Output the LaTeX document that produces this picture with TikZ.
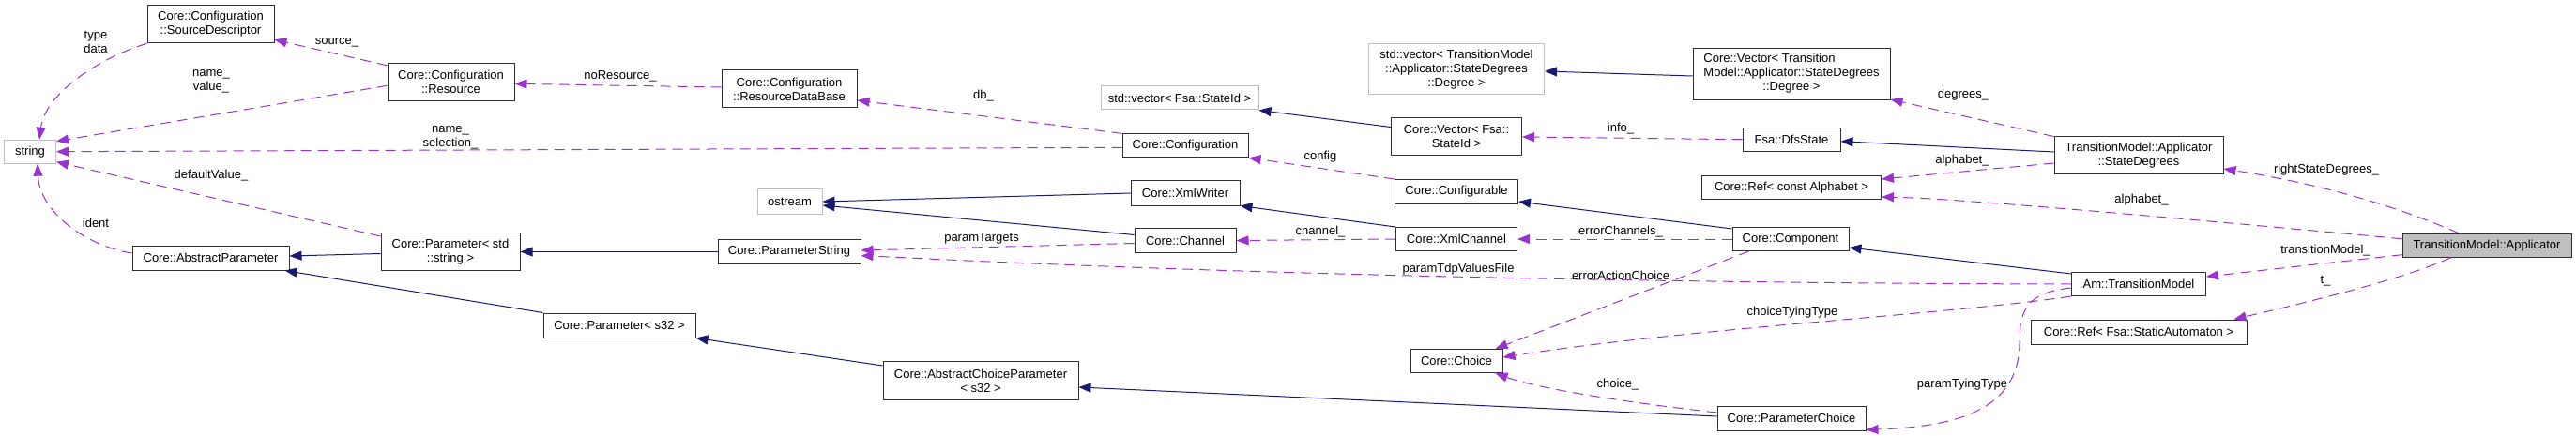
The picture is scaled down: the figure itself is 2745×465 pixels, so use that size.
\documentclass[tikz,border=0pt]{standalone}
\usepackage{fontspec}
\setmainfont{Liberation Sans}
\usetikzlibrary{arrows.meta}
\definecolor{dorchid}{HTML}{9A32CD}
\definecolor{mblue}{HTML}{191970}
\definecolor{gbord}{HTML}{BFBFBF}
\definecolor{bborder}{HTML}{303030}
\begin{document}
\begin{tikzpicture}[x=1pt,y=-1pt,
  every node/.style={font=\fontsize{13}{15}\selectfont},
  box/.style={draw=bborder, line width=1pt, fill=white, inner sep=0pt, align=center},
  extbox/.style={draw=gbord, line width=1pt, fill=white, inner sep=0pt, align=center},
  focusbox/.style={draw=bborder, line width=1pt, fill=gbord, inner sep=0pt, align=center},
  lbl/.style={inner sep=0pt, align=center},
  dep/.style={draw=dorchid, line width=1pt, dash pattern=on 11pt off 7pt, -{Triangle[length=13pt,width=10pt,fill=dorchid]}},
  inh/.style={draw=mblue, line width=1pt, -{Triangle[length=13pt,width=10pt,fill=mblue]}}]
\useasboundingbox (0,0) rectangle (2745,465);
% nodes
\node[extbox, minimum width=55pt, minimum height=25pt] (str) at (32,161.7) {string};
\node[box, minimum width=135pt, minimum height=40pt] (sd) at (224.5,25.8) {Core::Configuration\\::SourceDescriptor};
\node[box, minimum width=135pt, minimum height=40pt] (res) at (480.5,87.3) {Core::Configuration\\::Resource};
\node[box, minimum width=167pt, minimum height=26pt] (ap) at (224.5,275) {Core::AbstractParameter};
\node[box, minimum width=148pt, minimum height=40pt] (pstd) at (480,268.5) {Core::Parameter< std\\::string >};
\node[box, minimum width=162pt, minimum height=26pt] (ps32) at (660,347) {Core::Parameter< s32 >};
\node[box, minimum width=144pt, minimum height=40pt] (rdb) at (841,95) {Core::Configuration\\::ResourceDataBase};
\node[extbox, minimum width=168pt, minimum height=25pt] (stdvf) at (1257,104.5) {std::vector< Fsa::StateId >};
\node[box, minimum width=134pt, minimum height=25pt] (conf) at (1263,155.3) {Core::Configuration};
\node[extbox, minimum width=69pt, minimum height=26pt] (ost) at (841.5,215) {ostream};
\node[box, minimum width=116pt, minimum height=26pt] (xw) at (1263,206) {Core::XmlWriter};
\node[box, minimum width=152pt, minimum height=26pt] (pstr) at (841,268.5) {Core::ParameterString};
\node[box, minimum width=108pt, minimum height=26pt] (chan) at (1263,256.5) {Core::Channel};
\node[box, minimum width=208pt, minimum height=41pt] (acp) at (1045,406) {Core::AbstractChoiceParameter\\< s32 >};
\node[extbox, minimum width=187pt, minimum height=54pt] (stdvd) at (1552,74) {std::vector< TransitionModel\\::Applicator::StateDegrees\\::Degree >};
\node[box, minimum width=210pt, minimum height=55pt] (cvd) at (1909,79) {\begin{tabular}{@{}l@{}}Core::Vector< Transition\\Model::Applicator::StateDegrees\\\multicolumn{1}{@{}c@{}}{::Degree >}\end{tabular}};
\node[box, minimum width=139pt, minimum height=40pt] (cvf) at (1552,146) {Core::Vector< Fsa::\\StateId >};
\node[box, minimum width=104pt, minimum height=25pt] (dfs) at (1909,148.7) {Fsa::DfsState};
\node[box, minimum width=131pt, minimum height=26pt] (cfg) at (1552,204.5) {Core::Configurable};
\node[box, minimum width=191pt, minimum height=25pt] (refa) at (1909,200) {Core::Ref< const Alphabet >};
\node[box, minimum width=129pt, minimum height=25pt] (xmlc) at (1552,255) {Core::XmlChannel};
\node[box, minimum width=124pt, minimum height=25pt] (comp) at (1908,255) {Core::Component};
\node[box, minimum width=98pt, minimum height=25pt] (choice) at (1552,385) {Core::Choice};
\node[box, minimum width=158pt, minimum height=26pt] (pc) at (1909,446) {Core::ParameterChoice};
\node[box, minimum width=180pt, minimum height=40pt] (sdeg) at (2279,166) {TransitionModel::Applicator\\::StateDegrees};
\node[focusbox, minimum width=180pt, minimum height=25pt] (app) at (2650,261.7) {TransitionModel::Applicator};
\node[box, minimum width=143pt, minimum height=25pt] (tm) at (2279,303) {Am::TransitionModel};
\node[box, minimum width=230pt, minimum height=26pt] (refs) at (2279,354) {Core::Ref< Fsa::StaticAutomaton >};
% usage edges
\draw[dep] (sd.south west) .. controls (105,62) and (48,100) .. ([xshift=10pt]str.north);
\draw[dep] ([yshift=-4pt]res.west) -- ([yshift=-2pt]str.north east);
\draw[dep] ([yshift=-2pt]conf.west) -- (str.east);
\draw[dep] ([yshift=-4pt]pstd.north west) -- ([yshift=2pt]str.south east);
\draw[dep] ([yshift=5pt]ap.west) .. controls (90,262) and (42,225) .. ([xshift=8pt]str.south);
\draw[dep] ([yshift=-3pt]res.north west) -- ([yshift=4pt]sd.south east);
\draw[dep] ([yshift=2pt]rdb.west) -- ([yshift=-2pt]res.east);
\draw[dep] (conf.north west) -- ([yshift=-12pt]rdb.east);
\draw[dep] (cfg.north west) -- (conf.south east);
\draw[dep] ([yshift=-3pt]chan.west) -- ([yshift=1.5pt]pstr.east);
\draw[dep] (tm.west) .. controls (1750,302) and (1300,292) .. ([yshift=-4pt]pstr.east);
\draw[dep] ([xshift=18pt]comp.south west) -- ([xshift=-8pt]choice.north east);
\draw[dep] (tm.south west) .. controls (2080,335) and (1800,350) .. ([yshift=4pt]choice.east);
\draw[dep] ([yshift=6pt]pc.west) .. controls (1740,430) and (1640,415) .. ([xshift=-8pt]choice.south east);
\draw[dep] ([yshift=-4pt]tm.west) .. controls (2160,312) and (2152,330) .. (2152,365) .. controls (2152,440) and (2080,455) .. ([yshift=1pt]pc.south east);
\draw[dep] (dfs.west) -- (cvf.east);
\draw[dep] (comp.west) -- (xmlc.east);
\draw[dep] (xmlc.west) -- (chan.east);
\draw[dep] (sdeg.north west) -- ([yshift=1pt]cvd.south east);
\draw[dep] ([yshift=-8pt]sdeg.west) -- ([yshift=9pt]refa.east);
\draw[dep] ([yshift=7pt]app.west) .. controls (2400,240) and (2100,212) .. ([yshift=-10pt]refa.east);
\draw[dep] ([xshift=-30pt]app.north) .. controls (2520,205) and (2420,188) .. ([yshift=-14pt]sdeg.east);
\draw[dep] ([yshift=-10pt]app.west) -- ([yshift=8pt]tm.east);
\draw[dep] ([xshift=-38pt]app.south) .. controls (2560,298) and (2460,322) .. ([xshift=-14pt]refs.north east);
% inheritance edges
\draw[inh] ([yshift=-2pt]pstd.west) -- ([yshift=2pt]ap.east);
\draw[inh] (ps32.north west) -- ([xshift=-5pt]ap.south east);
\draw[inh] (pstr.west) -- (pstd.east);
\draw[inh] ([yshift=-5pt]acp.north west) -- (ps32.south east);
\draw[inh] ([yshift=2pt]pc.west) -- ([yshift=-7pt]acp.east);
\draw[inh] (xw.west) -- (ost.east);
\draw[inh] ([yshift=6pt]chan.west) -- ([yshift=-4pt]ost.east);
\draw[inh] (xmlc.north west) -- (xw.south east);
\draw[inh] ([yshift=-10pt]cvf.north west) -- (stdvf.south east);
\draw[inh] ([yshift=-2pt]cvd.west) -- ([yshift=-2pt]stdvd.east);
\draw[inh] ([yshift=-2pt]comp.north west) -- ([yshift=3pt]cfg.south east);
\draw[inh] ([yshift=-2pt]tm.north west) -- ([yshift=4pt]comp.south east);
\draw[inh] ([yshift=4pt]sdeg.west) -- ([yshift=-2pt]dfs.east);
% labels
\node[lbl] (l1) at (102,45) {type\\data};
\node[lbl] (l2) at (359,45) {source\_};
\node[lbl] (l3) at (225,87) {name\_\\value\_};
\node[lbl] (l4) at (661,81) {noResource\_};
\node[lbl] (l5) at (480,147) {name\_\\selection\_};
\node[lbl] (l6) at (225,187) {defaultValue\_};
\node[lbl] (l7) at (102,238) {ident};
\node[lbl] (l8) at (1048,102) {db\_};
\node[lbl] (l9) at (1046,254) {paramTargets};
\node[lbl] (l10) at (1727,137) {info\_};
\node[lbl] (l11) at (1407,167) {config};
\node[lbl] (l12) at (1407,247) {channel\_};
\node[lbl] (l13) at (1727,247) {errorChannels\_};
\node[lbl] (l14) at (1554,287) {paramTdpValuesFile};
\node[lbl] (l15) at (1727,294) {errorActionChoice};
\node[lbl] (l16) at (1910,333) {choiceTyingType};
\node[lbl] (l17) at (1724,410) {choice\_};
\node[lbl] (l18) at (2091,410) {paramTyingType};
\node[lbl] (l19) at (2092,101) {degrees\_};
\node[lbl] (l20) at (2091,171) {alphabet\_};
\node[lbl] (l21) at (2479,181) {rightStateDegrees\_};
\node[lbl] (l22) at (2282,213) {alphabet\_};
\node[lbl] (l23) at (2478,267) {transitionModel\_};
\node[lbl] (l24) at (2478,300) {t\_};
\end{tikzpicture}
\end{document}
